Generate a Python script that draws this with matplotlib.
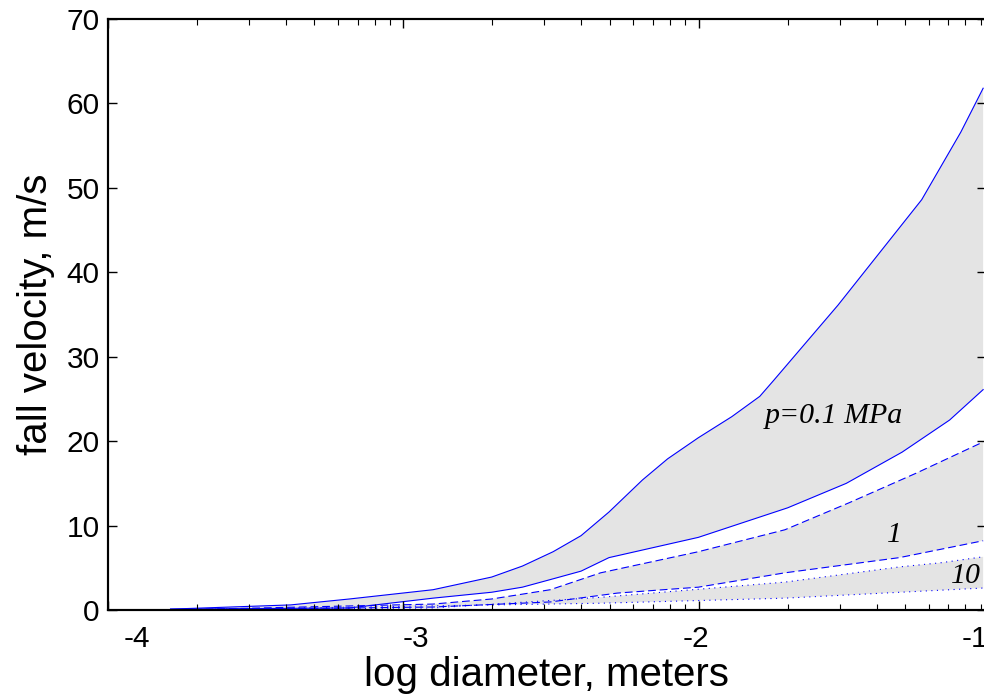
import numpy as np
import matplotlib
matplotlib.use('Agg')
import matplotlib.pyplot as plt
from matplotlib.ticker import FixedLocator, LogLocator, NullFormatter

# log10 of diameter (m) and fall velocity (m/s)
# p = 0.1 MPa (solid pair)
x_s_hi = [-3.88, -3.45, -3.24, -2.94, -2.73, -2.62, -2.51, -2.41, -2.31, -2.19,
          -2.10, -1.99, -1.87, -1.77, -1.72, -1.49, -1.19, -1.05, -0.97]
v_s_hi = [0.1, 0.6, 1.3, 2.4, 3.9, 5.2, 6.9, 8.8, 11.6, 15.4,
          17.9, 20.4, 22.9, 25.3, 27.2, 36.1, 48.6, 56.6, 61.8]
x_s_lo = [-3.88, -3.24, -2.94, -2.73, -2.62, -2.52, -2.41, -2.31, -1.99, -1.67,
          -1.46, -1.26, -1.09, -0.97]
v_s_lo = [0.1, 0.24, 1.4, 2.1, 2.7, 3.6, 4.6, 6.2, 8.6, 12.1,
          15.0, 18.7, 22.5, 26.1]
# p = 1 MPa (dashed pair)
x_d_hi = [-3.88, -2.94, -2.73, -2.52, -2.34, -1.99, -1.68, -1.45, -1.21, -0.97]
v_d_hi = [0.0, 0.7, 1.3, 2.4, 4.4, 6.9, 9.5, 12.7, 16.2, 19.9]
x_d_lo = [-3.88, -2.94, -2.52, -2.28, -1.99, -1.68, -1.27, -0.97]
v_d_lo = [0.0, 0.35, 0.95, 2.0, 2.7, 4.4, 6.2, 8.2]
# p = 10 MPa (dotted pair)
x_p_hi = [-3.88, -2.94, -2.34, -1.68, -1.27, -1.12, -0.97]
v_p_hi = [0.0, 0.24, 1.5, 3.3, 5.1, 5.6, 6.3]
x_p_lo = [-3.88, -2.34, -1.68, -0.97]
v_p_lo = [0.0, 0.8, 1.4, 2.6]

xtick_vals = [-4, -3, -2, -1]
ytick_vals = [0, 10, 20, 30, 40, 50, 60, 70]

fig = plt.figure(figsize=(9.84, 6.96), dpi=100)
ax = fig.add_axes([0.1098, 0.1236, 0.892, 0.8491])

blue = '#0000ff'
gray = '#e4e4e4'

pairs = [(x_s_hi, v_s_hi, x_s_lo, v_s_lo, '-'),
         (x_d_hi, v_d_hi, x_d_lo, v_d_lo, (0, (7, 3.5))),
         (x_p_hi, v_p_hi, x_p_lo, v_p_lo, (0, (1, 4)))]
for xh, vh, xl, vl, ls in pairs:
    ax.fill(np.concatenate([xh, xl[::-1]]), np.concatenate([vh, vl[::-1]]),
            color=gray, lw=0, zorder=1)
for xh, vh, xl, vl, ls in pairs:
    ax.plot(xh, vh, color=blue, lw=0.8, ls=ls, zorder=2)
    ax.plot(xl, vl, color=blue, lw=0.8, ls=ls, zorder=2)

serif = dict(family='Liberation Serif', style='italic', fontsize=21.5)
ax.text(-1.753, 22.1, 'p=0.1 MPa', ha='left', va='baseline', **serif)
ax.text(-1.313, 8.05, '1', ha='left', va='baseline', **serif)
ax.text(-1.084, 3.2, '10', ha='left', va='baseline', **serif)

ax.set_xlim(-4.1038, -0.9606)
ax.set_ylim(0, 70)
ax.set_xticks(xtick_vals)
ax.set_xticklabels([str(v) for v in xtick_vals])
ax.set_yticks(ytick_vals)
ax.tick_params(axis='x', length=0, pad=11, labelsize=21.5)
ax.tick_params(axis='y', direction='in', length=6.5, width=1, pad=6,
               labelsize=21.5, right=True)
for tl in ax.get_xticklabels() + ax.get_yticklabels():
    tl.set_family('Liberation Sans')
for sp in ax.spines.values():
    sp.set_linewidth(1.5)

ax.set_xlabel('log diameter, meters', family='Liberation Sans', fontsize=29, labelpad=2)
ax.set_ylabel('fall velocity, m/s', family='Liberation Sans', fontsize=29, labelpad=8)

# log tick marks for the diameter axis
ax2 = ax.twiny()
ax2.set_xscale('log')
ax2.set_xlim(1e-4, 10 ** -1.028)
ax2.xaxis.set_major_locator(FixedLocator([1e-4, 1e-3, 1e-2, 1e-1]))
ax2.xaxis.set_minor_locator(LogLocator(base=10, subs=np.arange(2, 10)))
ax2.xaxis.set_major_formatter(NullFormatter())
ax2.xaxis.set_minor_formatter(NullFormatter())
ax2.tick_params(axis='x', which='both', direction='in', top=True, bottom=True,
                labeltop=False, labelbottom=False)
ax2.tick_params(axis='x', which='major', length=6.5, width=1)
ax2.tick_params(axis='x', which='minor', length=4.5, width=0.8)
for sp in ax2.spines.values():
    sp.set_linewidth(1.5)

fig.savefig('out.png', dpi=100)
